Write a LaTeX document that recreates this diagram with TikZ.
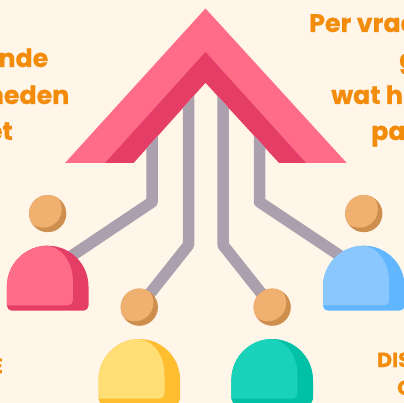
\documentclass[tikz,border=0pt]{standalone}
\usepackage{fontspec}
\setmainfont[BoldFeatures={FakeBold=0.5}]{Poppins}
\definecolor{bgc}{HTML}{FFF5E9}
\definecolor{roofl}{HTML}{FF6C87}
\definecolor{roofd}{HTML}{E53E66}
\definecolor{pipec}{HTML}{ABA0AE}
\definecolor{headl}{HTML}{F0B06F}
\definecolor{headd}{HTML}{CD8F4E}
\definecolor{yell}{HTML}{FFDE75}
\definecolor{yeld}{HTML}{FFBE30}
\definecolor{teal1}{HTML}{1AD1BA}
\definecolor{teal2}{HTML}{00C0A5}
\definecolor{blue1}{HTML}{8AC7FF}
\definecolor{blue2}{HTML}{60B7FF}
\definecolor{txt}{HTML}{F28C0A}
\tikzset{
  pipeline/.style={draw=pipec,line width=11.5pt,line join=round},
  bigtext/.style={text=txt,font=\fontsize{25.3}{25.3}\selectfont\bfseries,inner sep=0pt},
  smalltext/.style={text=txt,font=\fontsize{20.5}{20.5}\selectfont\bfseries,inner sep=0pt},
}
% #1 centre x, #2 head centre y, #3 body top y, #4 light, #5 dark
\newcommand{\figperson}[5]{%
  \begin{scope}
    \fill[headd] (#1,#2) circle[radius=18.6];
    \clip (#1,#2) circle[radius=18.6];
    \fill[headl] (#1-4.5,#2-4.5) circle[radius=18.6];
  \end{scope}
  \begin{scope}[shift={(#1,#3)}]
    \fill[#5] (-40.8,40.8) arc[start angle=180,end angle=360,radius=40.8] -- (40.8,60) arc[start angle=0,end angle=90,radius=5] -- (-35.8,65) arc[start angle=90,end angle=180,radius=5] -- cycle;
    \fill[#4] (-40.8,40.8) arc[start angle=180,end angle=270,radius=40.8]
      .. controls (14,2) and (25.2,16) .. (25.2,36)
      -- (25.2,54.6) arc[start angle=0,end angle=90,radius=5] -- (-40.8,59.6) -- cycle;
  \end{scope}
}
\begin{document}
\begin{tikzpicture}[x=1pt,y=-1pt]
\useasboundingbox (0,0) rectangle (404,403);
\fill[bgc] (0,0) rectangle (404,403);
\clip (0,0) rectangle (404,403);
% named points
\coordinate (a1) at (152,120);
\coordinate (a2) at (188.5,90);
\coordinate (a3) at (223,90);
\coordinate (a4) at (259.5,120);
\coordinate (b1) at (152,202);
\coordinate (b2) at (188.5,245);
\coordinate (b3) at (223,245);
\coordinate (b4) at (259.5,202);
\coordinate (c1) at (70,257);
\coordinate (c2) at (139.3,307);
\coordinate (c3) at (272.2,307);
\coordinate (c4) at (342,257);
% roof
\fill[roofl] (205.5,8.5) -- (346.7,163) -- (65,163) -- cycle;
\fill[roofd] (205.5,52) -- (306,163) -- (105,163) -- cycle;
\fill[bgc] (205.5,83) -- (279.3,163.5) -- (133.3,163.5) -- cycle;
\begin{scope}
  \clip (205.5,83) -- (279.3,163) -- (340,163) -- (350,403) -- (60,403) -- (60,163) -- (133.3,163) -- cycle;
  \draw[pipeline] (a1) -- (b1) -- (c1);
  \draw[pipeline] (a2) -- (b2) -- (c2);
  \draw[pipeline] (a3) -- (b3) -- (c3);
  \draw[pipeline] (a4) -- (b4) -- (c4);
\end{scope}
% persons
\figperson{47.7}{213.6}{245.7}{roofl}{roofd}
\figperson{139.3}{307.2}{339}{yell}{yeld}
\figperson{272.2}{307.2}{339}{teal1}{teal2}
\figperson{363.8}{213.6}{245.7}{blue1}{blue2}
% texts
\node[bigtext,anchor=base east] (t1) at (48.5,67) {nde};
\node[bigtext,anchor=base east] (t2) at (69.5,104) {heden};
\node[bigtext,anchor=base east] (t3) at (13,140) {et};
\node[bigtext,anchor=base west] (t4) at (309,32) {Per vraag};
\node[bigtext,anchor=base west] (t5) at (399,68) {g};
\node[bigtext,anchor=base west] (t6) at (331,104) {wat h};
\node[bigtext,anchor=base west] (t7) at (371,140) {pa};
\node[smalltext,anchor=base east] (t8) at (3,373) {E};
\node[smalltext,anchor=base west] (t9) at (377,367) {DIS};
\node[smalltext,anchor=base west] (t10) at (397,395) {O};
\end{tikzpicture}
\end{document}
